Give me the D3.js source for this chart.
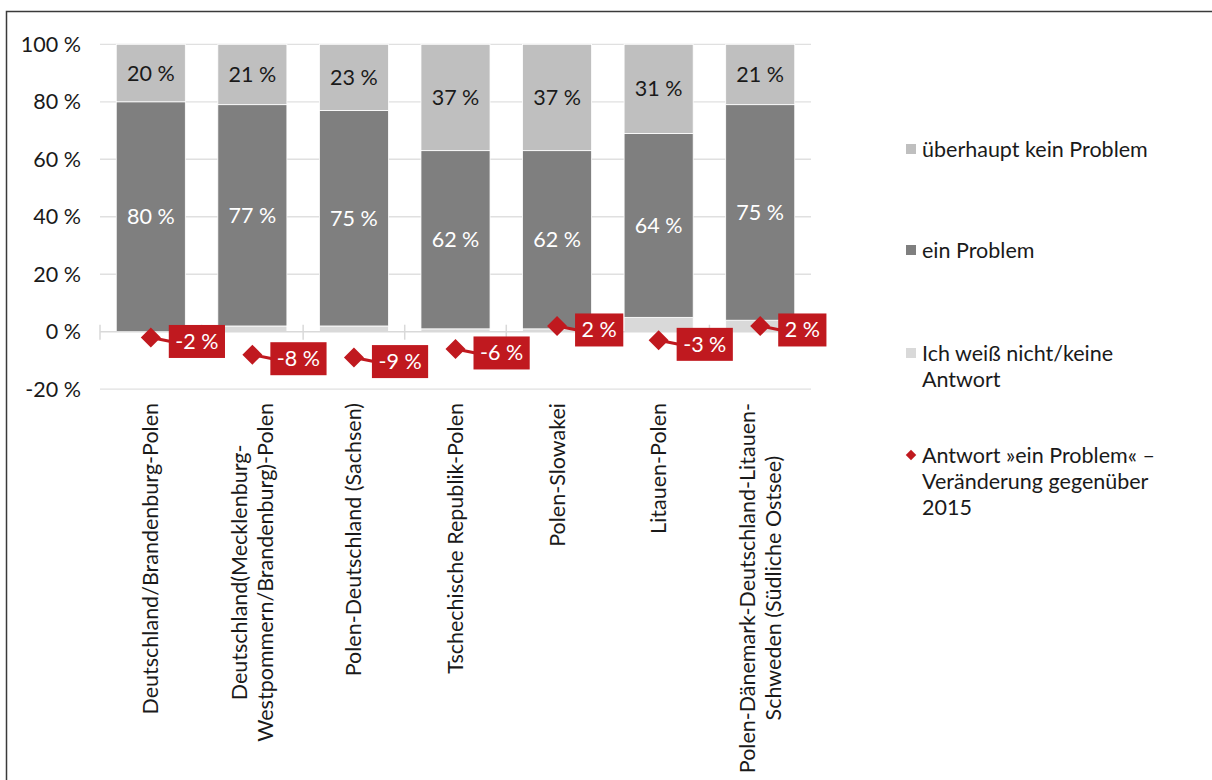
<!DOCTYPE html>
<html>
<head>
<meta charset="utf-8">
<script src="https://cdn.jsdelivr.net/npm/d3@7"></script>
<style>
  body { margin: 0; background: #fff; }
  svg { font-family: Lato, "Open Sans", sans-serif; }
</style>
</head>
<body>
<svg id="chart" width="1212" height="780"></svg>
<script>
// categories (lines of each x label)
var categories = [
  ["Deutschland/Brandenburg-Polen"],
  ["Deutschland(Mecklenburg-", "Westpommern/Brandenburg)-Polen"],
  ["Polen-Deutschland (Sachsen)"],
  ["Tschechische Republik-Polen"],
  ["Polen-Slowakei"],
  ["Litauen-Polen"],
  ["Polen-Dänemark-Deutschland-Litauen-", "Schweden (Südliche Ostsee)"]
];
var keinProblem = [20, 21, 23, 37, 37, 31, 21];
var einProblem  = [80, 77, 75, 62, 62, 64, 75];
var weissNicht  = [0, 2, 2, 1, 1, 5, 4];
var veraenderung = [-2, -8, -9, -6, 2, -3, 2];
var yTicks = [-20, 0, 20, 40, 60, 80, 100];

var legendLabels = [
  ["überhaupt kein Problem"],
  ["ein Problem"],
  ["Ich weiß nicht/keine", "Antwort"],
  ["Antwort »ein Problem« –", "Veränderung gegenüber", "2015"]
];

var colKein = "#bfbfbf", colEin = "#7f7f7f", colWeiss = "#d9d9d9", colRed = "#c0191f";
var fs = 21.5;

var svg = d3.select("#chart");

// frame (cut off at right / bottom like the reference)
svg.append("path")
  .attr("d", "M6.5,790 V11.5 H1220")
  .attr("fill", "none")
  .attr("stroke", "#3a3a3a")
  .attr("stroke-width", 1.5);

var x = d3.scaleBand()
  .domain(d3.range(categories.length))
  .range([100, 811])
  .paddingInner(0.32)
  .paddingOuter(0.16);

var y = d3.scaleLinear().domain([-20, 100]).range([389.2, 44.3]);

// gridlines
svg.append("g").selectAll("line")
  .data(yTicks.filter(function(d) { return d !== 0; }))
  .join("line")
  .attr("x1", 100).attr("x2", 811)
  .attr("y1", function(d) { return y(d); })
  .attr("y2", function(d) { return y(d); })
  .attr("stroke", "#e0e0e0")
  .attr("stroke-width", 1.3);

// y axis labels
var yAxis = svg.append("g")
  .attr("transform", "translate(81,0)")
  .call(d3.axisLeft(y).tickValues(yTicks).tickSize(0).tickPadding(0)
    .tickFormat(function(d) { return d + " %"; }));
yAxis.select(".domain").remove();
yAxis.selectAll("text")
  .attr("font-family", "Lato, sans-serif")
  .attr("font-size", fs)
  .attr("fill", "#1a1a1a");

// stacked bars
var rows = categories.map(function(c, i) {
  return { i: i, weiss: weissNicht[i], ein: einProblem[i], kein: keinProblem[i] };
});
var stack = d3.stack().keys(["weiss", "ein", "kein"]);
var series = stack(rows);
var colors = { weiss: colWeiss, ein: colEin, kein: colKein };

svg.append("g").selectAll("g")
  .data(series)
  .join("g")
  .attr("fill", function(s) { return colors[s.key]; })
  .selectAll("rect")
  .data(function(s) { return s; })
  .join("rect")
  .attr("x", function(d) { return x(d.data.i); })
  .attr("width", x.bandwidth())
  .attr("y", function(d) { return y(d[1]); })
  .attr("height", function(d) { return y(d[0]) - y(d[1]); })
  .attr("stroke", "#fff")
  .attr("stroke-width", 0.8);

// value labels inside bars
series.filter(function(s) { return s.key !== "weiss"; }).forEach(function(s) {
  svg.append("g").selectAll("text")
    .data(s)
    .join("text")
    .attr("x", function(d) { return x(d.data.i) + x.bandwidth() / 2; })
    .attr("y", function(d) { return (y(d[0]) + y(d[1])) / 2; })
    .attr("dy", "0.35em")
    .attr("text-anchor", "middle")
    .attr("font-size", fs)
    .attr("fill", s.key === "ein" ? "#fff" : "#1a1a1a")
    .text(function(d) { return d.data[s.key] + " %"; });
});

// zero axis line with category ticks
var zero = svg.append("g").attr("stroke", "#d9d9d9").attr("stroke-width", 1.5);
zero.append("line")
  .attr("x1", 100).attr("x2", 811)
  .attr("y1", y(0)).attr("y2", y(0));
zero.selectAll("line.tick")
  .data(d3.range(categories.length + 1))
  .join("line")
  .attr("class", "tick")
  .attr("x1", function(i) { return 100 + i * x.step(); })
  .attr("x2", function(i) { return 100 + i * x.step(); })
  .attr("y1", y(0) - 7).attr("y2", y(0) + 8);

// change markers with callout labels
var diamond = d3.symbol().type(d3.symbolDiamond2).size(255);
var markers = svg.append("g");
veraenderung.forEach(function(v, i) {
  var cx = x(i) + x.bandwidth() / 2, cy = y(v);
  var g = markers.append("g");
  var t = g.append("text")
    .attr("font-size", fs)
    .attr("fill", "#fff")
    .attr("dy", "0.35em")
    .text(v + " %");
  var w = t.node().getComputedTextLength() + 13;
  var bx = cx + 18, by = cy + 4;
  g.insert("line", "text")
    .attr("x1", cx).attr("y1", cy)
    .attr("x2", bx + 2).attr("y2", by)
    .attr("stroke", colRed).attr("stroke-width", 3);
  g.insert("rect", "text")
    .attr("x", bx).attr("y", by - 16.5)
    .attr("width", w).attr("height", 33)
    .attr("fill", colRed);
  t.attr("x", bx + 6.5).attr("y", by);
  g.append("path")
    .attr("d", diamond)
    .attr("transform", "translate(" + cx + "," + cy + ")")
    .attr("fill", colRed);
});

// x labels rotated
var xl = svg.append("g");
categories.forEach(function(lines, i) {
  var cx = x(i) + x.bandwidth() / 2;
  var g = xl.append("g").attr("transform", "translate(" + cx + ",403) rotate(-90)");
  var texts = lines.map(function(l, j) {
    return g.append("text")
      .attr("font-size", fs)
      .attr("fill", "#1a1a1a")
      .attr("text-anchor", "middle")
      .attr("y", (j - (lines.length - 1) / 2) * 26)
      .attr("dy", "0.35em")
      .text(l);
  });
  var maxW = d3.max(texts, function(t) { return t.node().getComputedTextLength(); });
  texts.forEach(function(t) { t.attr("x", -maxW / 2); });
});

// legend
var legendY = [149, 250, 353, 455];
var lg = svg.append("g");
legendLabels.forEach(function(lines, i) {
  var ly = legendY[i];
  if (i < 3) {
    lg.append("rect")
      .attr("x", 906).attr("y", ly - 5)
      .attr("width", 10).attr("height", 10)
      .attr("fill", [colKein, colEin, colWeiss][i]);
  } else {
    lg.append("path")
      .attr("d", d3.symbol().type(d3.symbolDiamond2).size(70))
      .attr("transform", "translate(911," + ly + ")")
      .attr("fill", colRed);
  }
  lines.forEach(function(l, j) {
    lg.append("text")
      .attr("x", 922)
      .attr("y", ly + j * 26)
      .attr("dy", "0.35em")
      .attr("font-size", fs)
      .attr("fill", "#1a1a1a")
      .text(l);
  });
});
</script>
</body>
</html>
